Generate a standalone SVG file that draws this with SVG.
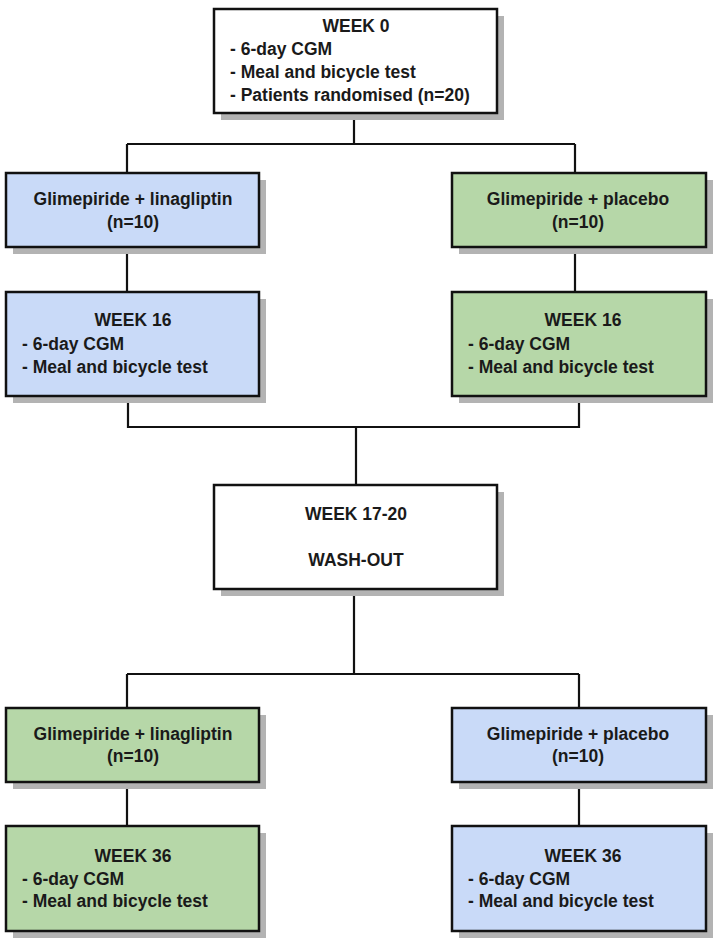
<svg xmlns="http://www.w3.org/2000/svg" width="714" height="940" viewBox="0 0 714 940">
<style>
.box{stroke:#111;stroke-width:2.5}
.shadow{fill:#b3b3b3}
.white{fill:#ffffff}
.blue{fill:#c9daf8}
.green{fill:#b6d7a8}
.conn{fill:none;stroke:#111;stroke-width:2.2}
text{font-family:"Liberation Sans",Arial,Helvetica,sans-serif;font-weight:bold;font-size:17.5px;fill:#1a1a1a}
.c{text-anchor:middle}
</style>
<rect width="714" height="940" fill="#ffffff"/>
<g id="connectors">
<path class="conn" d="M354,113 V144 M127,144 H575 M127,144 V173 M575,144 V173"/>
<path class="conn" d="M127,247 V292 M575,247 V292"/>
<path class="conn" d="M128,396 V427 H579 V396 M356,427 V485"/>
<path class="conn" d="M354,589 V674 M127,674 H579 M127,674 V708 M579,674 V708"/>
<path class="conn" d="M127,782 V826 M579,782 V826"/>
</g>
<g id="week0">
<rect class="shadow" x="221" y="16" width="283" height="104"/>
<rect class="box white" x="214" y="9" width="283" height="104"/>
<text class="c" x="356" y="32">WEEK 0</text>
<text x="230" y="55">- 6-day CGM</text>
<text x="230" y="78">- Meal and bicycle test</text>
<text x="230" y="101">- Patients randomised (n=20)</text>
</g>
<g id="arm1-linagliptin">
<rect class="shadow" x="13" y="180" width="253" height="74"/>
<rect class="box blue" x="6" y="173" width="253" height="74"/>
<text class="c" x="133" y="205">Glimepiride + linagliptin</text>
<text class="c" x="133" y="228">(n=10)</text>
</g>
<g id="arm1-placebo">
<rect class="shadow" x="459" y="180" width="254" height="74"/>
<rect class="box green" x="452" y="173" width="254" height="74"/>
<text class="c" x="578" y="205">Glimepiride + placebo</text>
<text class="c" x="578" y="228">(n=10)</text>
</g>
<g id="week16-left">
<rect class="shadow" x="13" y="299" width="253" height="104"/>
<rect class="box blue" x="6" y="292" width="253" height="104"/>
<text class="c" x="133" y="326">WEEK 16</text>
<text x="22" y="350">- 6-day CGM</text>
<text x="22" y="373">- Meal and bicycle test</text>
</g>
<g id="week16-right">
<rect class="shadow" x="459" y="299" width="254" height="104"/>
<rect class="box green" x="452" y="292" width="254" height="104"/>
<text class="c" x="583" y="326">WEEK 16</text>
<text x="468" y="350">- 6-day CGM</text>
<text x="468" y="373">- Meal and bicycle test</text>
</g>
<g id="washout">
<rect class="shadow" x="221" y="492" width="283" height="104"/>
<rect class="box white" x="214" y="485" width="283" height="104"/>
<text class="c" x="356" y="520">WEEK 17-20</text>
<text class="c" x="356" y="566">WASH-OUT</text>
</g>
<g id="arm2-linagliptin">
<rect class="shadow" x="13" y="715" width="253" height="74"/>
<rect class="box green" x="6" y="708" width="253" height="74"/>
<text class="c" x="133" y="740">Glimepiride + linagliptin</text>
<text class="c" x="133" y="762">(n=10)</text>
</g>
<g id="arm2-placebo">
<rect class="shadow" x="459" y="715" width="254" height="74"/>
<rect class="box blue" x="452" y="708" width="254" height="74"/>
<text class="c" x="578" y="740">Glimepiride + placebo</text>
<text class="c" x="578" y="762">(n=10)</text>
</g>
<g id="week36-left">
<rect class="shadow" x="13" y="833" width="253" height="105"/>
<rect class="box green" x="6" y="826" width="253" height="105"/>
<text class="c" x="133" y="862">WEEK 36</text>
<text x="22" y="885">- 6-day CGM</text>
<text x="22" y="907">- Meal and bicycle test</text>
</g>
<g id="week36-right">
<rect class="shadow" x="459" y="833" width="254" height="105"/>
<rect class="box blue" x="452" y="826" width="254" height="105"/>
<text class="c" x="583" y="862">WEEK 36</text>
<text x="468" y="885">- 6-day CGM</text>
<text x="468" y="907">- Meal and bicycle test</text>
</g>
</svg>
